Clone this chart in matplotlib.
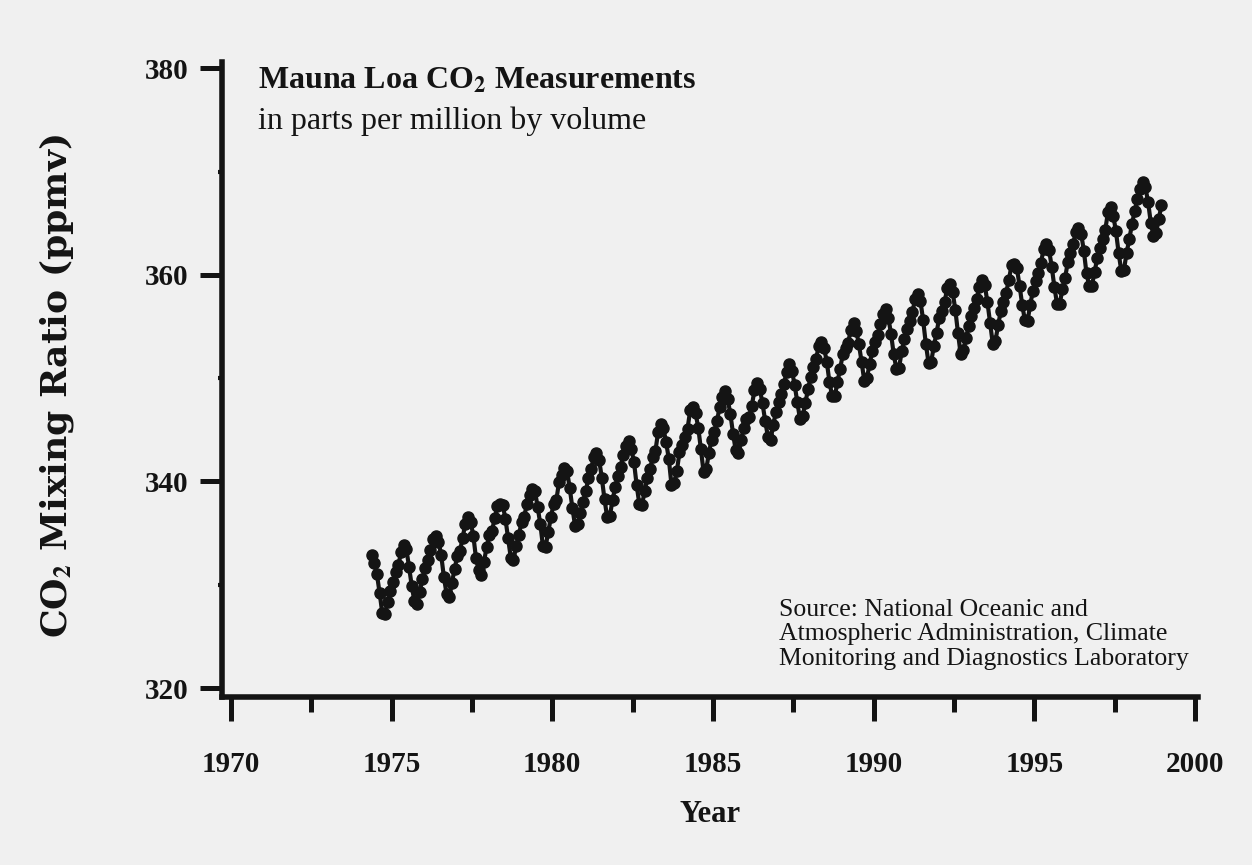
import matplotlib.pyplot as plt
import numpy as np

plt.rcParams["mathtext.fontset"] = "stix"

# monthly mean CO2 at Mauna Loa (ppmv), Jan..Dec for each year
years = list(range(1974, 1999))
co2 = [
    [None, None, None, None, 332.92, 332.08, 331.01, 329.23, 327.27, 327.21, 328.29, 329.41],
    [330.23, 331.25, 331.87, 333.14, 333.80, 333.43, 331.73, 329.90, 328.40, 328.17, 329.32, 330.59],
    [331.58, 332.39, 333.33, 334.41, 334.71, 334.17, 332.89, 330.77, 329.14, 328.78, 330.14, 331.52],
    [332.75, 333.24, 334.53, 335.90, 336.57, 336.10, 334.76, 332.59, 331.42, 330.98, 332.24, 333.68],
    [334.80, 335.22, 336.47, 337.59, 337.84, 337.72, 336.37, 334.51, 332.60, 332.38, 333.75, 334.78],
    [336.05, 336.59, 337.79, 338.71, 339.30, 339.12, 337.56, 335.92, 333.75, 333.70, 335.12, 336.56],
    [337.84, 338.19, 339.91, 340.60, 341.29, 341.00, 339.39, 337.43, 335.72, 335.84, 336.93, 338.04],
    [339.06, 340.30, 341.21, 342.33, 342.74, 342.08, 340.32, 338.26, 336.52, 336.68, 338.19, 339.44],
    [340.57, 341.44, 342.53, 343.39, 343.96, 343.18, 341.88, 339.65, 337.81, 337.69, 339.09, 340.32],
    [341.20, 342.35, 342.93, 344.77, 345.58, 345.14, 343.81, 342.21, 339.69, 339.82, 340.98, 342.82],
    [343.52, 344.33, 345.11, 346.88, 347.25, 346.62, 345.22, 343.11, 340.90, 341.18, 342.80, 344.04],
    [344.79, 345.82, 347.25, 348.17, 348.74, 347.97, 346.53, 344.63, 343.01, 342.76, 344.05, 345.18],
    [346.09, 346.27, 347.33, 348.82, 349.51, 348.96, 347.56, 345.87, 344.35, 344.05, 345.43, 346.74],
    [347.71, 348.49, 349.42, 350.63, 351.36, 350.73, 349.34, 347.65, 346.03, 346.31, 347.61, 348.91],
    [350.13, 351.06, 351.83, 353.13, 353.53, 352.93, 351.60, 349.63, 348.28, 348.23, 349.63, 350.92],
    [352.33, 352.93, 353.44, 354.71, 355.32, 354.60, 353.29, 351.58, 349.77, 350.01, 351.36, 352.61],
    [353.50, 354.20, 355.26, 356.26, 356.65, 355.83, 354.31, 352.32, 350.90, 351.03, 352.59, 353.81],
    [354.75, 355.52, 356.42, 357.66, 358.19, 357.44, 355.60, 353.31, 351.50, 351.60, 353.11, 354.38],
    [355.87, 356.54, 357.40, 358.70, 359.10, 358.35, 356.64, 354.38, 352.34, 352.68, 353.86, 355.07],
    [355.98, 356.77, 357.69, 358.87, 359.54, 359.01, 357.36, 355.31, 353.34, 353.62, 355.16, 356.47],
    [357.38, 358.29, 359.51, 360.92, 361.06, 360.64, 358.96, 357.08, 355.60, 355.55, 357.13, 358.46],
    [359.40, 360.18, 361.17, 362.52, 362.98, 362.43, 360.80, 358.84, 357.18, 357.20, 358.60, 359.70],
    [361.22, 362.10, 363.00, 364.14, 364.57, 364.00, 362.34, 360.14, 358.96, 358.89, 360.28, 361.60],
    [362.59, 363.48, 364.35, 366.04, 366.55, 365.72, 364.21, 362.12, 360.36, 360.52, 362.16, 363.49],
    [364.94, 366.20, 367.33, 368.35, 368.99, 368.46, 367.07, 365.06, 363.79, 364.08, 365.38, 366.80],
]
x_ticks = [1970, 1975, 1980, 1985, 1990, 1995, 2000]
y_ticks = [320, 340, 360, 380]

# flatten into decimal-year / value pairs
t, v = [], []
for yr, row in zip(years, co2):
    for m, val in enumerate(row):
        if val is not None:
            t.append(yr + (m + 0.5) / 12)
            v.append(val)

bg = "#f0f0f0"
ink = "#141414"
fig = plt.figure(figsize=(12.52, 8.65), dpi=100, facecolor=bg)
ax = fig.add_axes([0.1773, 0.1942, 0.7797, 0.734], facecolor=bg)

ax.plot(t, v, color=ink, linewidth=3, marker="o", markersize=8)

ax.set_xlim(1969.72, 2000.1)
ax.set_ylim(319.13, 380.6)

for s in ["top", "right"]:
    ax.spines[s].set_visible(False)
for s in ["left", "bottom"]:
    ax.spines[s].set_linewidth(4)
    ax.spines[s].set_color(ink)

ax.set_xticks(x_ticks)
ax.set_xticks(np.arange(1972.5, 2000, 5), minor=True)
ax.set_yticks(y_ticks)
ax.set_yticks([330, 350, 370], minor=True)
ax.tick_params(axis="x", which="major", length=17, width=3.6, color=ink, pad=22)
ax.tick_params(axis="x", which="minor", length=11, width=3.6, color=ink)
ax.tick_params(axis="y", which="major", length=16, width=3.6, color=ink, pad=8)
ax.tick_params(axis="y", which="minor", length=3, width=3, color=ink)

for lab in ax.get_xticklabels() + ax.get_yticklabels():
    lab.set_fontfamily("Liberation Serif")
    lab.set_fontweight("bold")
    lab.set_fontsize(21)
    lab.set_color(ink)

ax.set_xlabel("Year", fontfamily="Liberation Serif", fontweight="bold",
              fontsize=22, color=ink, labelpad=16)
fig.text(0.045, 0.554, r"CO$_\mathbf{2}$ Mixing Ratio (ppmv)", rotation=90,
         ha="center", va="center", fontfamily="DejaVu Serif", fontweight="bold",
         fontsize=26, color=ink)

ax.text(0.037, 0.993, r"Mauna Loa CO$_\mathbf{2}$ Measurements", transform=ax.transAxes,
        fontfamily="Liberation Serif", fontweight="bold", fontsize=23,
        color=ink, va="top", ha="left")
ax.text(0.037, 0.93, "in parts per million by volume", transform=ax.transAxes,
        fontfamily="Liberation Serif", fontsize=23, color=ink, va="top", ha="left")

ax.text(0.571, 0.155,
        "Source: National Oceanic and\nAtmospheric Administration, Climate\n"
        "Monitoring and Diagnostics Laboratory",
        transform=ax.transAxes, fontfamily="Liberation Serif", fontsize=18.5,
        color=ink, va="top", ha="left", linespacing=1.15)

fig.savefig("out.png", dpi=100, facecolor=bg)
